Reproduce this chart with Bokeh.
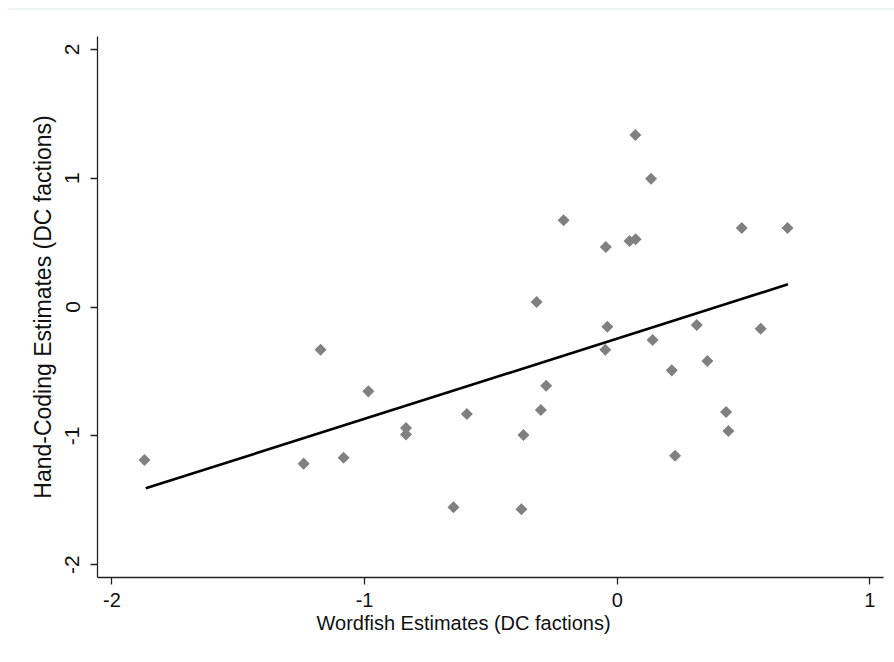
import math
from bokeh.plotting import figure
from bokeh.models import FixedTicker, Range1d, Title, Div
from bokeh.layouts import column
from bokeh.embed import file_html
from bokeh.resources import INLINE

# ---- data ----
wordfish = [-1.871, -1.241, -1.174, -1.083, -0.985, -0.836, -0.836, -0.648,
            -0.595, -0.379, -0.371, -0.319, -0.302, -0.281, -0.212, -0.045,
            -0.047, -0.039, 0.049, 0.073, 0.072, 0.134, 0.140, 0.216,
            0.229, 0.315, 0.357, 0.431, 0.440, 0.493, 0.568, 0.674]
handcoding = [-1.188, -1.216, -0.331, -1.170, -0.655, -0.940, -0.990, -1.555,
              -0.831, -1.571, -0.994, 0.039, -0.800, -0.611, 0.673, 0.466,
              -0.331, -0.153, 0.512, 0.526, 1.335, 0.996, -0.256, -0.492,
              -1.154, -0.140, -0.419, -0.815, -0.963, 0.613, -0.168, 0.613]
fit_x = [-1.866, 0.676]
fit_y = [-1.408, 0.176]
x_ticks = [-2, -1, 0, 1]
x_tick_labels = ["-2", "-1", "0", "1"]
y_ticks = [-2, -1, 0, 1, 2]
y_tick_labels = ["-2", "-1", "0", "1", "2"]
x_title = "Wordfish Estimates (DC factions)"
y_title = "Hand-Coding Estimates (DC factions)"

FONT = "Liberation Sans"
TXT = "#111111"

p = figure(width=894, height=652, output_backend="svg", toolbar_location=None,
           x_range=Range1d(-2.057, 1.054), y_range=Range1d(-2.1, 2.1),
           min_border_left=97, min_border_right=11, min_border_top=26,
           min_border_bottom=85)
p.border_fill_color = "white"
p.background_fill_color = "white"
p.outline_line_color = None
p.xgrid.visible = False
p.ygrid.visible = False

p.scatter(wordfish, handcoding, marker="square", angle=math.pi / 4, size=8.5,
          fill_color="#808080", line_color=None)
p.line(fit_x, fit_y, line_color="black", line_width=2.6)

for ax in (p.xaxis[0], p.yaxis[0]):
    ax.axis_line_color = "#222222"
    ax.axis_line_width = 1.3
    ax.major_tick_line_color = "#222222"
    ax.major_tick_line_width = 1.3
    ax.major_tick_out = 7
    ax.major_tick_in = 0
    ax.minor_tick_out = 0
    ax.minor_tick_in = 0
    ax.major_label_text_font = FONT
    ax.major_label_text_color = TXT
    ax.axis_label_text_font = FONT
    ax.axis_label_text_color = TXT
    ax.axis_label_text_font_style = "normal"

p.xaxis.ticker = FixedTicker(ticks=x_ticks)
p.yaxis.ticker = FixedTicker(ticks=y_ticks)
p.xaxis.major_label_overrides = {t: s for t, s in zip(x_ticks, x_tick_labels)}
p.yaxis.major_label_overrides = {t: s for t, s in zip(y_ticks, y_tick_labels)}
p.xaxis.major_label_text_font_size = "20px"
p.xaxis.major_label_standoff = 8
p.yaxis.major_label_text_font_size = "21px"
p.yaxis.major_label_orientation = "vertical"
p.yaxis.major_label_standoff = 11
p.yaxis.axis_label = y_title
p.yaxis.axis_label_text_font_size = "23px"
p.yaxis.axis_label_standoff = 7

t = Title(text=x_title, align="left", offset=219, text_font=FONT,
          text_font_size="20px", text_font_style="normal", text_color=TXT,
          standoff=0)
p.add_layout(t, "below")

top = Div(text="", width=886, height=10, margin=(0, 0, 0, 8),
          styles={"border-bottom": "2px solid #eef2f1", "box-sizing": "border-box"})

layout = column(top, p, spacing=0)
open("out.html", "w").write(file_html(layout, INLINE))
